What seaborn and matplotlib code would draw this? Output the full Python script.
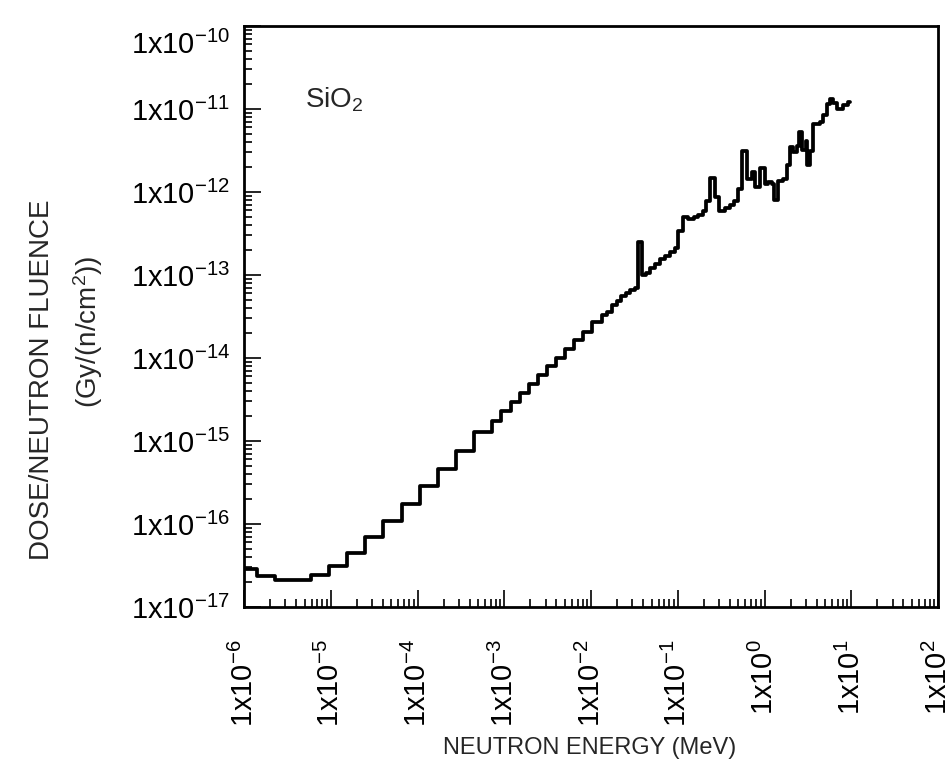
import numpy as np
import pandas as pd
import matplotlib
matplotlib.use("Agg")
import matplotlib.pyplot as plt
import matplotlib.transforms as mtransforms
from matplotlib.ticker import FixedLocator, FuncFormatter, NullFormatter
import seaborn as sns

# Bin edges (MeV)
energy_edges = [
    1.00e-6, 1.40e-6, 2.28e-6, 5.87e-6, 9.62e-6, 1.53e-5, 2.48e-5, 4.04e-5, 6.62e-5,
    1.07e-4, 1.74e-4, 2.78e-4, 4.48e-4, 7.28e-4, 9.18e-4, 1.19e-3, 1.52e-3, 1.93e-3,
    2.47e-3, 3.08e-3, 3.95e-3, 5.01e-3, 6.43e-3, 8.15e-3, 1.04e-2, 1.33e-2, 1.52e-2,
    1.73e-2, 1.98e-2, 2.22e-2, 2.51e-2, 2.82e-2, 3.21e-2, 3.51e-2, 3.84e-2, 4.31e-2,
    4.79e-2, 5.47e-2, 6.24e-2, 7.13e-2, 8.15e-2, 9.29e-2, 0.101, 0.115, 0.132, 0.154,
    0.173, 0.193, 0.214, 0.236, 0.269, 0.299, 0.351, 0.395, 0.440, 0.489, 0.553, 0.634,
    0.711, 0.787, 0.895, 1.01, 1.11, 1.21, 1.29, 1.44, 1.65, 1.83, 1.95, 2.15, 2.35,
    2.52, 2.74, 3.01, 3.13, 3.37, 3.67, 4.37, 4.76, 5.19, 5.69, 6.21, 6.90, 7.96, 9.18,
    9.68,
]

# Dose per neutron fluence in each bin (Gy cm^2)
dose_per_fluence = [
    2.84e-17, 2.37e-17, 2.09e-17, 2.43e-17, 3.12e-17, 4.42e-17, 6.95e-17, 1.09e-16,
    1.75e-16, 2.85e-16, 4.65e-16, 7.64e-16, 1.28e-15, 1.75e-15, 2.28e-15, 2.94e-15,
    3.78e-15, 4.84e-15, 6.17e-15, 7.91e-15, 1.01e-14, 1.29e-14, 1.65e-14, 2.08e-14,
    2.68e-14, 3.30e-14, 3.62e-14, 4.32e-14, 4.85e-14, 5.57e-14, 6.01e-14, 6.59e-14,
    7.03e-14, 2.51e-13, 1.00e-13, 1.07e-13, 1.22e-13, 1.35e-13, 1.55e-13, 1.71e-13,
    1.87e-13, 2.09e-13, 3.37e-13, 5.02e-13, 4.70e-13, 5.02e-13, 5.35e-13, 5.89e-13,
    7.78e-13, 1.48e-12, 8.73e-13, 5.97e-13, 6.49e-13, 7.06e-13, 7.89e-13, 1.08e-12,
    3.08e-12, 1.45e-12, 1.75e-12, 1.15e-12, 1.96e-12, 1.26e-12, 1.32e-12, 1.26e-12,
    7.94e-13, 1.35e-12, 1.45e-12, 2.10e-12, 3.44e-12, 3.03e-12, 3.61e-12, 5.27e-12,
    3.24e-12, 4.15e-12, 2.09e-12, 3.15e-12, 6.64e-12, 6.97e-12, 8.36e-12, 1.14e-11,
    1.33e-11, 1.19e-11, 1.01e-11, 1.12e-11, 1.22e-11,
]

x_major = [1e-6, 1e-5, 1e-4, 1e-3, 1e-2, 1e-1, 1e0, 1e1, 1e2]
y_major = [1e-17, 1e-16, 1e-15, 1e-14, 1e-13, 1e-12, 1e-11, 1e-10]

x_label = "NEUTRON ENERGY (MeV)"
y_label_1 = "DOSE/NEUTRON FLUENCE"
y_label_2 = r"(Gy/(n/cm$^2$))"
material = r"SiO$_2$"

sns.set_style("ticks")
plt.rcParams["font.family"] = ["Liberation Sans", "DejaVu Sans"]
plt.rcParams["mathtext.fontset"] = "custom"
plt.rcParams["mathtext.rm"] = "Liberation Sans"
plt.rcParams["mathtext.it"] = "Liberation Sans:italic"
plt.rcParams["mathtext.bf"] = "Liberation Sans:bold"

df = pd.DataFrame({
    "energy": energy_edges,
    "dose": list(dose_per_fluence) + [dose_per_fluence[-1]],
})

fig = plt.figure(figsize=(9.46, 7.67), dpi=100)
ax = fig.add_axes([244 / 946, 1 - 607 / 767, 694 / 946, 581 / 767])

sns.lineplot(data=df, x="energy", y="dose", drawstyle="steps-post",
             estimator=None, sort=False, color="black", linewidth=2.7, ax=ax)

ax.set_xscale("log")
ax.set_yscale("log")
ax.set_xlim(1e-6, 1e2)
ax.set_ylim(1e-17, 1e-10)


def minor_positions(majors):
    out = []
    for m in majors[:-1]:
        out.extend([m * k for k in range(2, 10)])
    return out


fmt = FuncFormatter(lambda v, p: r"$\mathregular{1x10^{%d}}$" % int(round(np.log10(v))))
ax.xaxis.set_major_locator(FixedLocator(x_major))
ax.yaxis.set_major_locator(FixedLocator(y_major))
ax.xaxis.set_minor_locator(FixedLocator(minor_positions(x_major)))
ax.yaxis.set_minor_locator(FixedLocator(minor_positions(y_major)))
ax.xaxis.set_major_formatter(fmt)
ax.yaxis.set_major_formatter(fmt)
ax.xaxis.set_minor_formatter(NullFormatter())
ax.yaxis.set_minor_formatter(NullFormatter())

ax.tick_params(which="both", direction="in", top=False, right=False, width=1.2, colors="black")
ax.tick_params(which="major", length=12, labelsize=21)
ax.tick_params(axis="y", which="major", pad=10)
ax.tick_params(axis="x", which="major", pad=23)
ax.tick_params(which="minor", length=6)
for lab in ax.get_xticklabels():
    lab.set_rotation(90)

fig.canvas.draw()
# the top y label sits a little below its tick in the reference
for t in ax.yaxis.get_major_ticks():
    if abs(np.log10(t.get_loc()) + 10) < 1e-6:
        t.label1.set_transform(t.label1.get_transform() +
                               mtransforms.ScaledTranslation(0, -16 / 100, fig.dpi_scale_trans))

for s in ax.spines.values():
    s.set_linewidth(2.0)
    s.set_color("black")

ax.set_xlabel("")
ax.set_ylabel("")
fig.text(590 / 946, 1 - 748 / 767, x_label, ha="center", va="center", fontsize=17)
fig.text(42 / 946, 1 - 380 / 767, y_label_1, ha="center", va="center", rotation=90, fontsize=20)
fig.text(88 / 946, 1 - 332 / 767, y_label_2, ha="center", va="center", rotation=90, fontsize=20)
ax.text(0.088, 0.873, material, transform=ax.transAxes, ha="left", va="center", fontsize=20)

fig.savefig("out.png", dpi=100)
